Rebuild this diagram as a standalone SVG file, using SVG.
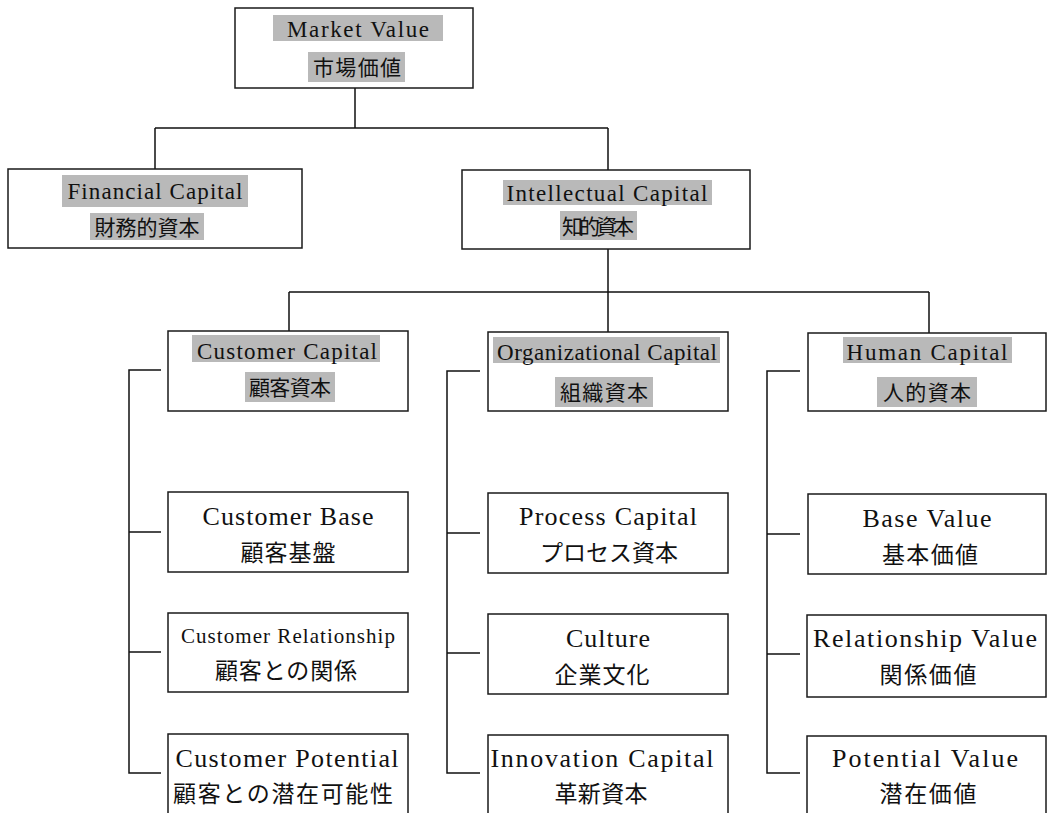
<svg xmlns="http://www.w3.org/2000/svg" width="1048" height="813" viewBox="0 0 1048 813">
  <style>
    .box { fill: #ffffff; stroke: #1a1a1a; stroke-width: 1.5; }
    .hl { fill: #b9b9b9; }
    .en { font-family: "Liberation Serif", "Noto Sans CJK JP", serif; fill: #111; text-anchor: middle; }
    .jp { font-family: "Noto Sans CJK JP", "Liberation Serif", sans-serif; fill: #111; text-anchor: middle; }
    .h { font-size: 23px; }
    .hj { font-size: 21px; }
    .c { font-size: 26px; }
    .cj { font-size: 23px; }
    #connectors path { fill: none; stroke: #111; stroke-width: 1.5; }
  </style>

  <rect width="1048" height="813" fill="#ffffff"/>

  <!-- connector lines -->
  <g id="connectors">
    <path d="M355 88 V128 M155 128 H608 M155 128 V169 M608 128 V170"/>
    <path d="M608 249 V292 M289 292 H929 M289 292 V331 M608 292 V332 M929 292 V333"/>
    <path d="M161 370 H129 V773 H161 M129 532 H161 M129 652 H161"/>
    <path d="M480 371 H447 V773 H480 M447 533 H480 M447 653 H480"/>
    <path d="M800 371 H767 V773 H800 M767 534 H800 M767 654 H800"/>
  </g>

  <!-- top level -->
  <g id="market-value">
    <rect class="box" x="235" y="8" width="238" height="80"/>
    <rect class="hl" x="273" y="15" width="170" height="26"/>
    <rect class="hl" x="308" y="52" width="97" height="30"/>
    <text class="en h" x="358" y="37" textLength="142" lengthAdjust="spacing">Market Value</text>
    <text class="jp hj" x="357" y="75" textLength="88" lengthAdjust="spacing">市場価値</text>
  </g>

  <g id="financial-capital">
    <rect class="box" x="8" y="169" width="294" height="79"/>
    <rect class="hl" x="62" y="175" width="186" height="32"/>
    <rect class="hl" x="90" y="213" width="114" height="27"/>
    <text class="en h" x="155" y="199" textLength="175" lengthAdjust="spacing">Financial Capital</text>
    <text class="jp hj" x="147" y="235" textLength="105" lengthAdjust="spacing">財務的資本</text>
  </g>

  <g id="intellectual-capital">
    <rect class="box" x="462" y="170" width="288" height="79"/>
    <rect class="hl" x="503" y="180" width="209" height="25"/>
    <rect class="hl" x="560" y="211" width="77" height="29"/>
    <text class="en h" x="607" y="201" textLength="201" lengthAdjust="spacing">Intellectual Capital</text>
    <text class="jp hj" x="598" y="234" textLength="72" lengthAdjust="spacing">知的資本</text>
  </g>

  <!-- second level -->
  <g id="customer-capital">
    <rect class="box" x="168" y="331" width="240" height="80"/>
    <rect class="hl" x="192" y="335" width="188" height="27"/>
    <rect class="hl" x="245" y="372" width="90" height="30"/>
    <text class="en h" x="287" y="359" textLength="180" lengthAdjust="spacing">Customer Capital</text>
    <text class="jp hj" x="290" y="395" textLength="82" lengthAdjust="spacing">顧客資本</text>
  </g>

  <g id="organizational-capital">
    <rect class="box" x="488" y="332" width="240" height="79"/>
    <rect class="hl" x="493" y="337" width="227" height="26"/>
    <rect class="hl" x="555" y="377" width="98" height="30"/>
    <text class="en h" x="607" y="360" textLength="220" lengthAdjust="spacing">Organizational Capital</text>
    <text class="jp hj" x="604" y="400" textLength="88" lengthAdjust="spacing">組織資本</text>
  </g>

  <g id="human-capital">
    <rect class="box" x="808" y="333" width="238" height="78"/>
    <rect class="hl" x="843" y="337" width="169" height="26"/>
    <rect class="hl" x="877" y="377" width="100" height="30"/>
    <text class="en h" x="927" y="360" textLength="161" lengthAdjust="spacing">Human Capital</text>
    <text class="jp hj" x="927" y="400" textLength="88" lengthAdjust="spacing">人的資本</text>
  </g>

  <!-- customer capital components -->
  <g id="customer-base">
    <rect class="box" x="168" y="492" width="240" height="80"/>
    <text class="en c" x="288" y="525" textLength="171" lengthAdjust="spacing">Customer Base</text>
    <text class="jp cj" x="288" y="561" textLength="95" lengthAdjust="spacing">顧客基盤</text>
  </g>

  <g id="customer-relationship">
    <rect class="box" x="168" y="613" width="240" height="79"/>
    <text class="en" style="font-size:21px" x="288" y="643" textLength="214" lengthAdjust="spacing">Customer Relationship</text>
    <text class="jp cj" x="286" y="679" textLength="142" lengthAdjust="spacing">顧客との関係</text>
  </g>

  <g id="customer-potential">
    <rect class="box" x="168" y="734" width="240" height="90"/>
    <text class="en c" x="287" y="767" textLength="223" lengthAdjust="spacing">Customer Potential</text>
    <text class="jp cj" x="283" y="802" textLength="220" lengthAdjust="spacing">顧客との潜在可能性</text>
  </g>

  <!-- organizational capital components -->
  <g id="process-capital">
    <rect class="box" x="488" y="493" width="240" height="80"/>
    <text class="en c" x="608" y="525" textLength="178" lengthAdjust="spacing">Process Capital</text>
    <text class="jp cj" x="609" y="561" textLength="138" lengthAdjust="spacing">プロセス資本</text>
  </g>

  <g id="culture">
    <rect class="box" x="488" y="614" width="240" height="80"/>
    <text class="en c" x="608" y="647" textLength="84" lengthAdjust="spacing">Culture</text>
    <text class="jp cj" x="602" y="683" textLength="95" lengthAdjust="spacing">企業文化</text>
  </g>

  <g id="innovation-capital">
    <rect class="box" x="488" y="735" width="240" height="90"/>
    <text class="en c" x="602" y="767" textLength="223" lengthAdjust="spacing">Innovation Capital</text>
    <text class="jp cj" x="601" y="802" textLength="93" lengthAdjust="spacing">革新資本</text>
  </g>

  <!-- human capital components -->
  <g id="base-value">
    <rect class="box" x="808" y="494" width="238" height="80"/>
    <text class="en c" x="927" y="527" textLength="129" lengthAdjust="spacing">Base Value</text>
    <text class="jp cj" x="930" y="563" textLength="96" lengthAdjust="spacing">基本価値</text>
  </g>

  <g id="relationship-value">
    <rect class="box" x="807" y="615" width="239" height="82"/>
    <text class="en c" x="925" y="647" textLength="224" lengthAdjust="spacing">Relationship Value</text>
    <text class="jp cj" x="928" y="683" textLength="97" lengthAdjust="spacing">関係価値</text>
  </g>

  <g id="potential-value">
    <rect class="box" x="807" y="736" width="239" height="90"/>
    <text class="en c" x="925" y="767" textLength="186" lengthAdjust="spacing">Potential Value</text>
    <text class="jp cj" x="928" y="802" textLength="97" lengthAdjust="spacing">潜在価値</text>
  </g>
</svg>
